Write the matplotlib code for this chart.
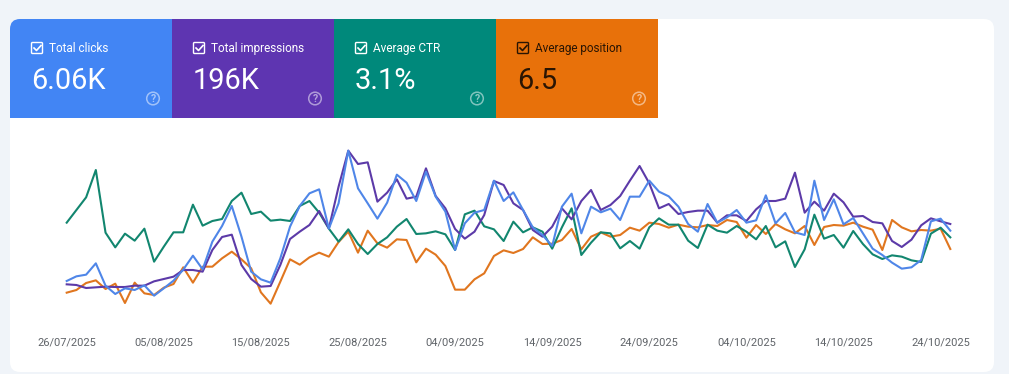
"""
Search performance overview: four metric cards above a four-line chart
"""
import matplotlib
matplotlib.use("Agg")
import matplotlib.pyplot as plt
from matplotlib.patches import FancyBboxPatch, PathPatch, Rectangle, Circle
from matplotlib.path import Path

plt.rcParams["font.family"] = ["Roboto", "DejaVu Sans"]

# metric cards
card_names = ["Total clicks", "Total impressions", "Average CTR", "Average position"]
card_values = ["6.06K", "196K", "3.1%", "6.5"]
card_colors = ["#4285f4", "#5e35b1", "#00897b", "#e8710a"]
card_text = ["white", "white", "white", "#2a1503"]

tick_labels = ["26/07/2025", "05/08/2025", "15/08/2025", "25/08/2025", "04/09/2025",
               "14/09/2025", "24/09/2025", "04/10/2025", "14/10/2025", "24/10/2025"]
tick_days = [0, 10, 20, 30, 40, 50, 60, 70, 80, 90]

# readings, the y axis is hidden and runs downwards (0 = top)
clicks = [423, 409, 404, 370, 437, 462, 445, 450, 436, 467, 445, 422, 389, 347, 388, 305,
          258, 198, 290, 395, 418, 428, 355, 260, 198, 160, 148, 266, 190, 32, 145, 190,
          236, 188, 104, 128, 183, 95, 170, 215, 330, 250, 218, 210, 122, 183, 157, 210,
          262, 285, 318, 200, 161, 280, 200, 217, 206, 240, 170, 170, 122, 155, 169, 200,
          252, 275, 192, 248, 232, 210, 248, 241, 166, 250, 219, 277, 285, 122, 240, 178,
          253, 234, 280, 326, 345, 368, 386, 382, 360, 244, 236, 272]
impressions = [433, 435, 444, 442, 440, 441, 441, 437, 437, 424, 417, 410, 390, 390, 395, 330,
               291, 284, 375, 417, 440, 438, 375, 297, 275, 255, 213, 265, 140, 32, 72, 67,
               185, 158, 118, 176, 170, 85, 168, 205, 267, 296, 275, 225, 123, 135, 190, 210,
               270, 290, 260, 205, 238, 183, 150, 210, 195, 168, 122, 78, 130, 205, 192, 222,
               216, 212, 212, 248, 226, 226, 243, 208, 183, 183, 176, 98, 218, 185, 212, 161,
               187, 230, 228, 246, 250, 303, 321, 299, 256, 235, 244, 252]
ctr = [248, 210, 172, 90, 278, 322, 281, 302, 266, 365, 320, 277, 277, 194, 257, 243,
       237, 183, 158, 222, 215, 242, 239, 243, 198, 183, 218, 266, 305, 268, 312, 342,
       312, 292, 260, 237, 282, 280, 274, 283, 330, 223, 212, 259, 268, 303, 245, 277,
       262, 275, 326, 262, 205, 345, 308, 277, 280, 325, 303, 326, 262, 235, 254, 254,
       302, 324, 254, 272, 278, 258, 275, 298, 258, 322, 304, 381, 328, 224, 296, 285,
       323, 273, 312, 343, 357, 346, 350, 361, 366, 281, 263, 292]
position = [458, 450, 429, 421, 447, 431, 489, 428, 460, 465, 443, 432, 382, 428, 380, 380,
            355, 335, 358, 385, 457, 491, 425, 358, 374, 352, 338, 350, 306, 275, 338, 272,
            310, 323, 298, 300, 367, 326, 344, 378, 449, 449, 418, 400, 348, 331, 339, 327,
            292, 312, 311, 300, 267, 328, 290, 277, 290, 285, 263, 272, 248, 252, 263, 254,
            260, 262, 255, 258, 240, 246, 293, 255, 282, 252, 268, 280, 258, 315, 261, 255,
            257, 248, 260, 269, 330, 240, 262, 274, 270, 272, 266, 327]
days = list(range(len(clicks)))

W, H = 1009, 374
fig = plt.figure(figsize=(W / 100, H / 100), dpi=100, facecolor="#f0f4f9")

# overlay in pixels for the panel and the cards
bg = fig.add_axes([0, 0, 1, 1])
bg.set_xlim(0, W)
bg.set_ylim(H, 0)
bg.axis("off")

panel = FancyBboxPatch((10, 19), 984, 353, boxstyle="round,pad=0,rounding_size=10",
                       facecolor="white", edgecolor="none")
bg.add_patch(panel)

for i, name in enumerate(card_names):
    x0 = 10 + 162 * i
    if i == 0:
        verts = [(10, 118), (10, 29), (10, 19), (20, 19), (172, 19), (172, 118), (10, 118)]
        codes = [Path.MOVETO, Path.LINETO, Path.CURVE3, Path.CURVE3, Path.LINETO, Path.LINETO,
                 Path.CLOSEPOLY]
        bg.add_patch(PathPatch(Path(verts, codes), facecolor=card_colors[i], edgecolor="none"))
    else:
        bg.add_patch(Rectangle((x0, 19), 162, 99, facecolor=card_colors[i], edgecolor="none"))

    color = card_text[i]
    bg.add_patch(FancyBboxPatch((x0 + 21.5, 42.5), 11, 11,
                                boxstyle="round,pad=0,rounding_size=1",
                                facecolor="none", edgecolor=color, linewidth=1))
    bg.plot([x0 + 24, x0 + 26.5, x0 + 31], [48, 50.5, 45.5], color=color, linewidth=1.2)
    bg.text(x0 + 39, 48, name, color=color, fontsize=8.45, va="center", ha="left")
    bg.text(x0 + 21, 80.5, card_values[i], color=color, fontsize=20.9, va="center", ha="left")

    icon_x = x0 + 143
    bg.add_patch(Circle((icon_x, 98.5), 6.3, facecolor="none", edgecolor="white",
                        alpha=0.5, linewidth=1.1))
    bg.text(icon_x, 98.5, "?", color="white", alpha=0.55, fontsize=7.5, fontweight="bold",
            va="center", ha="center")

# watermark cut off by the bottom edge
bg.text(800, 381, "Activate Windows", color="#b5b5b5", fontsize=11.5, va="center", ha="center",
        clip_on=True)

# chart, axes box runs from x 20 to 990 and y 140 to 320 in pixels
ax = fig.add_axes([20 / W, (H - 320) / H, 970 / W, 180 / H])
ax.patch.set_alpha(0)
ax.set_xlim((20 - 66.7) / 9.71, (990 - 66.7) / 9.71)
ax.set_ylim(540, 0)
for side in ax.spines.values():
    side.set_visible(False)

ax.plot(days, position, color="#e0761f", linewidth=1.5)
ax.plot(days, ctr, color="#12866f", linewidth=1.5)
ax.plot(days, impressions, color="#5c3aa8", linewidth=1.5)
ax.plot(days, clicks, color="#4f86e8", linewidth=1.5)

ax.set_yticks([])
ax.set_xticks(tick_days)
ax.set_xticklabels(tick_labels, color="#5f6368", fontsize=7.9)
ax.tick_params(axis="x", length=0, pad=12.5)

fig.savefig("out.png", dpi=100, facecolor=fig.get_facecolor())
